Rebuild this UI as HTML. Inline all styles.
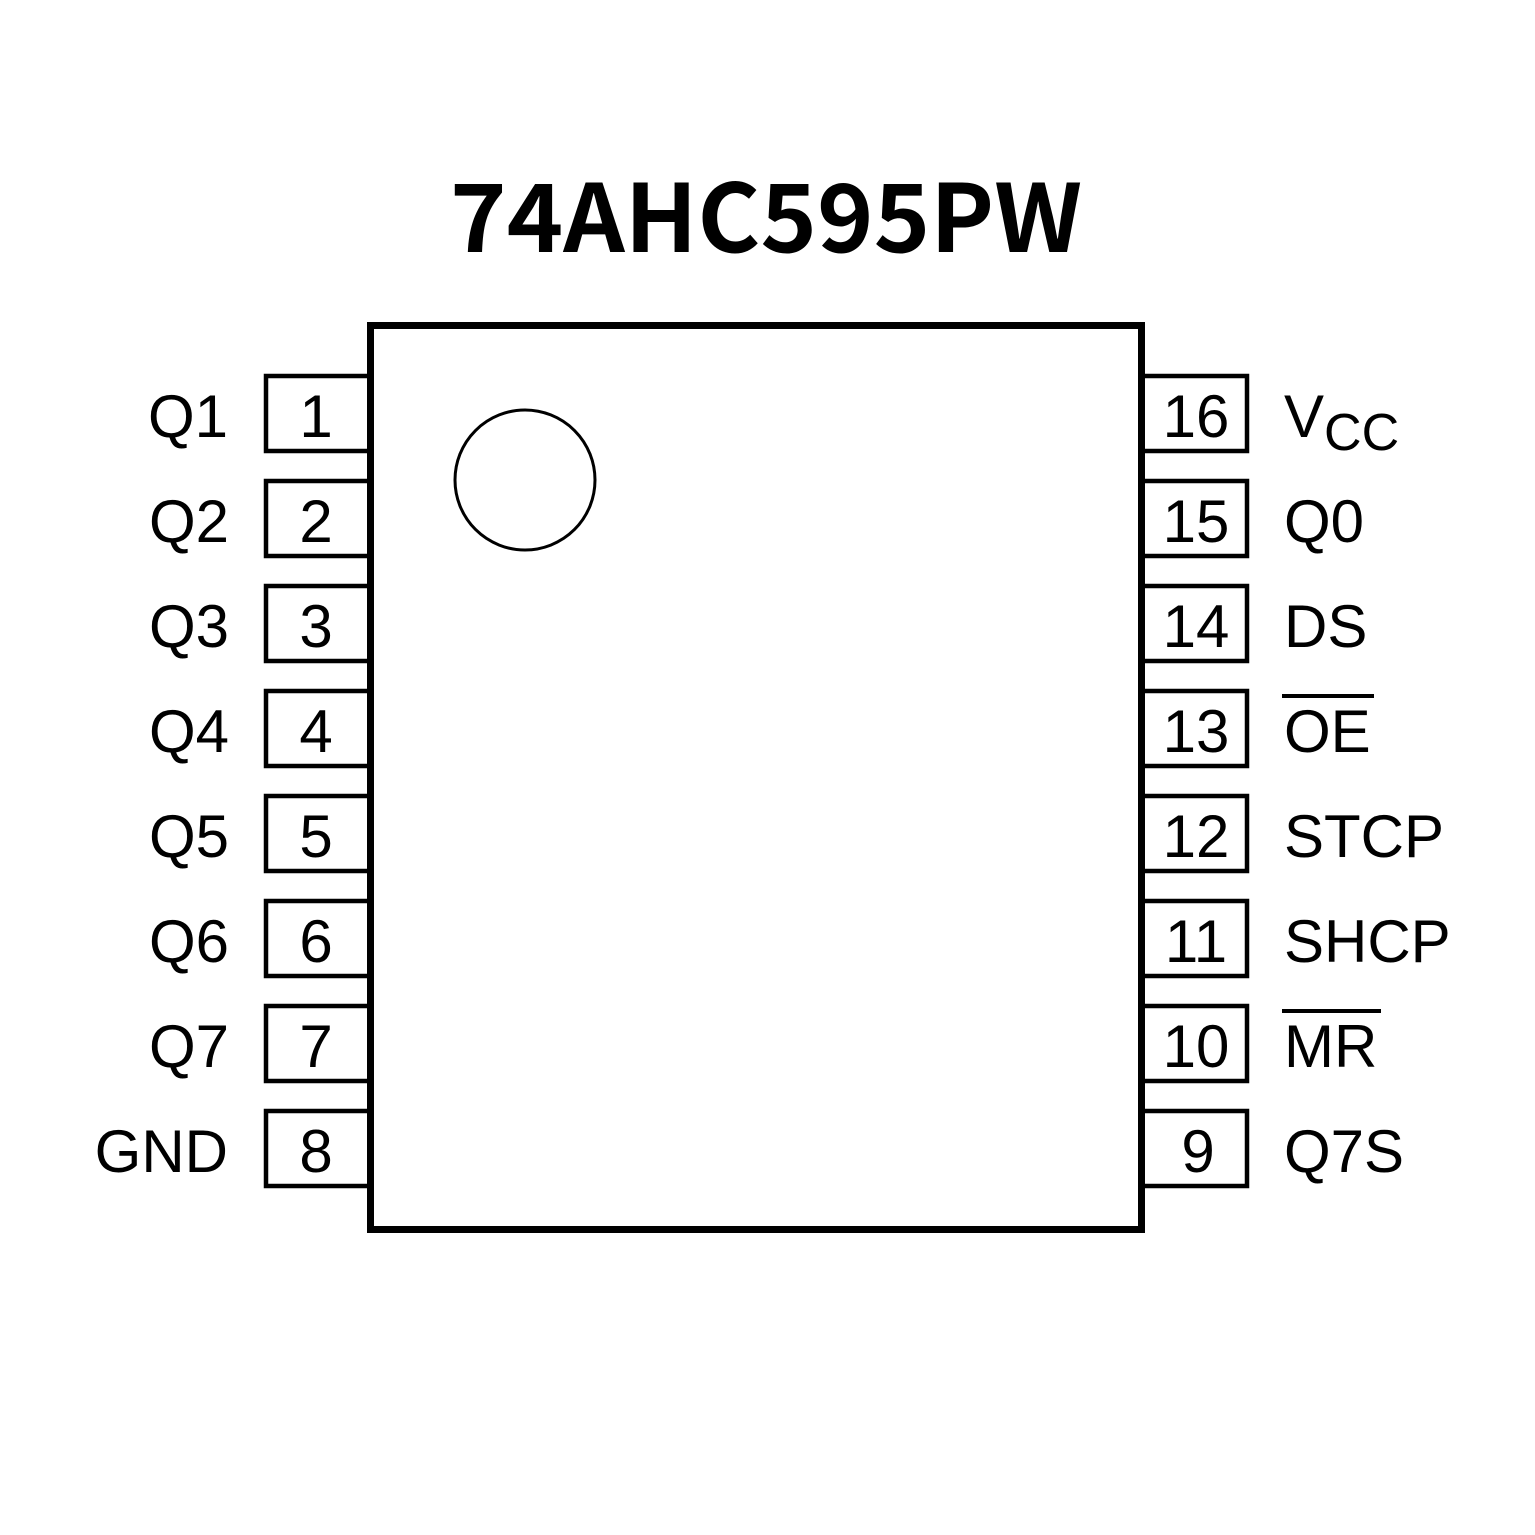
<!DOCTYPE html>
<html><head><meta charset="utf-8"><style>
html,body{margin:0;padding:0;background:#fff;}
svg{display:block;}
text{font-family:"Liberation Sans",Arial,sans-serif;fill:#000;}
</style></head><body>
<svg width="1535" height="1535" viewBox="0 0 1535 1535" xmlns="http://www.w3.org/2000/svg">
<text x="450" y="252" textLength="632" lengthAdjust="spacingAndGlyphs" style="font-family:'Noto Sans CJK SC','Liberation Sans',sans-serif;font-weight:bold;font-size:94px">74AHC595PW</text>
<rect x="370.5" y="325.5" width="771" height="904" fill="none" stroke="#000" stroke-width="7"/>
<circle cx="525" cy="480" r="70" fill="none" stroke="#000" stroke-width="3"/>
<g fill="none" stroke="#000" stroke-width="4.5">
<rect x="266" y="376" width="104" height="75"/>
<rect x="266" y="481" width="104" height="75"/>
<rect x="266" y="586" width="104" height="75"/>
<rect x="266" y="691" width="104" height="75"/>
<rect x="266" y="796" width="104" height="75"/>
<rect x="266" y="901" width="104" height="75"/>
<rect x="266" y="1006" width="104" height="75"/>
<rect x="266" y="1111" width="104" height="75"/>
<rect x="1142" y="376" width="105" height="75"/>
<rect x="1142" y="481" width="105" height="75"/>
<rect x="1142" y="586" width="105" height="75"/>
<rect x="1142" y="691" width="105" height="75"/>
<rect x="1142" y="796" width="105" height="75"/>
<rect x="1142" y="901" width="105" height="75"/>
<rect x="1142" y="1006" width="105" height="75"/>
<rect x="1142" y="1111" width="105" height="75"/>
</g>
<g font-size="60">
<g text-anchor="middle">
<text x="316" y="437">1</text><text x="316" y="542">2</text><text x="316" y="647">3</text><text x="316" y="752">4</text>
<text x="316" y="857">5</text><text x="316" y="962">6</text><text x="316" y="1067">7</text><text x="316" y="1172">8</text>
<text x="1196" y="437">16</text><text x="1196" y="542">15</text><text x="1196" y="647">14</text><text x="1196" y="752">13</text>
<text x="1196" y="857">12</text><text x="1196" y="962">11</text><text x="1196" y="1067">10</text><text x="1198" y="1172">9</text>
</g>
<g text-anchor="end">
<text x="228" y="437">Q1</text><text x="229" y="542">Q2</text><text x="229" y="647">Q3</text><text x="229" y="752">Q4</text>
<text x="229" y="857">Q5</text><text x="229" y="962">Q6</text><text x="229" y="1067">Q7</text><text x="228" y="1172">GND</text>
</g>
<text x="1284" y="437">V<tspan font-size="52" dy="13">CC</tspan></text>
<text x="1284" y="542">Q0</text>
<text x="1284" y="647">DS</text>
<text x="1284" y="752">OE</text>
<text x="1284" y="857">STCP</text>
<text x="1284" y="962">SHCP</text>
<text x="1284" y="1067">MR</text>
<text x="1284" y="1172">Q7S</text>
</g>
<rect x="1282" y="694" width="92" height="4" fill="#000"/>
<rect x="1282" y="1009" width="99" height="4" fill="#000"/>
</svg>
</body></html>
